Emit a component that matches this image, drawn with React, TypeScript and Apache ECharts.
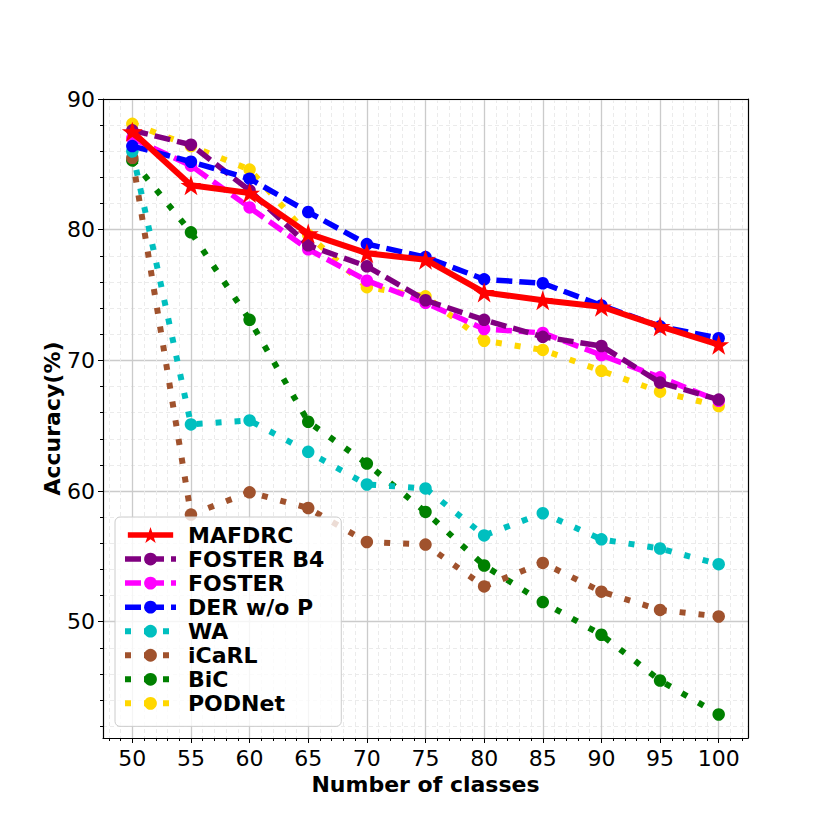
import React, { useEffect, useRef } from "react";
import * as echarts from "echarts";

const classes = [50, 55, 60, 65, 70, 75, 80, 85, 90, 95, 100];
const mafdrc = [87.5, 83.4, 82.8, 79.7, 78.2, 77.7, 75.2, 74.6, 74.1, 72.6, 71.2];
const fosterB4 = [87.6, 86.5, 83.0, 78.8, 77.2, 74.6, 73.1, 71.8, 71.1, 68.3, 67.0];
const foster = [87.0, 84.9, 81.7, 78.5, 76.1, 74.4, 72.4, 72.1, 70.4, 68.7, 66.9];
const derWoP = [86.4, 85.2, 83.9, 81.35, 78.9, 77.9, 76.2, 75.9, 74.2, 72.6, 71.7];
const wa = [86.0, 65.1, 65.4, 63.0, 60.5, 60.2, 56.6, 58.3, 56.3, 55.6, 54.4];
const icarl = [85.5, 58.2, 59.9, 58.7, 56.1, 55.9, 52.7, 54.5, 52.3, 50.9, 50.4];
const bic = [85.3, 79.8, 73.1, 65.3, 62.1, 58.4, 54.3, 51.5, 49.0, 45.5, 42.9];
const podnet = [88.1, 86.4, 84.6, 79.6, 75.6, 74.9, 71.5, 70.8, 69.2, 67.6, 66.5];

const xMajorTicks = [50, 55, 60, 65, 70, 75, 80, 85, 90, 95, 100];
const xMinorTicks = [48, 49, 51, 52, 53, 54, 56, 57, 58, 59, 61, 62, 63, 64, 66, 67, 68, 69, 71, 72, 73, 74, 76, 77, 78, 79, 81, 82, 83, 84, 86, 87, 88, 89, 91, 92, 93, 94, 96, 97, 98, 99, 101, 102];
const yMajorTicks = [50, 60, 70, 80, 90];
const yMinorTicks = [42, 44, 46, 48, 52, 54, 56, 58, 62, 64, 66, 68, 72, 74, 76, 78, 82, 84, 86, 88];

const legendNames = ["MAFDRC", "FOSTER B4", "FOSTER", "DER w/o P", "WA", "iCaRL", "BiC", "PODNet"];

const FONT = "DejaVu Sans";
const DASHED = [16, 7];
const DOTTED = [6, 13];

function starPoints(cx: number, cy: number, r: number): number[][] {
  const pts: number[][] = [];
  for (let k = 0; k < 10; k++) {
    const a = ((-90 + k * 36) * Math.PI) / 180;
    const rr = k % 2 === 0 ? r : r * 0.382;
    pts.push([cx + rr * Math.cos(a), cy + rr * Math.sin(a)]);
  }
  return pts;
}

function starSymbol(): string {
  const pts = starPoints(50, 50, 50);
  return "path://M" + pts.map((p) => p[0].toFixed(2) + " " + p[1].toFixed(2)).join(" L") + " Z";
}

// legend icon for MAFDRC: a solid bar with a star in the middle (units = px of the icon box 51x18)
function starLegendIcon(): string {
  const R = 18 / 1.809;
  const pts = starPoints(25.5, R, R);
  const bar = "M0 6 L51 6 L51 12 L0 12 Z";
  const star = "M" + pts.map((p) => p[0].toFixed(2) + " " + p[1].toFixed(2)).join(" L") + " Z";
  return "path://" + bar + " " + star;
}

type Def = { name: string; values: number[]; color: string; style: "solid" | "dashed" | "dotted"; star?: boolean };

const defs: Def[] = [
  { name: "MAFDRC", values: mafdrc, color: "#ff0000", style: "solid", star: true },
  { name: "FOSTER B4", values: fosterB4, color: "#800080", style: "dashed" },
  { name: "FOSTER", values: foster, color: "#ff00ff", style: "dashed" },
  { name: "DER w/o P", values: derWoP, color: "#0000ff", style: "dashed" },
  { name: "WA", values: wa, color: "#00bfbf", style: "dotted" },
  { name: "iCaRL", values: icarl, color: "#a0522d", style: "dotted" },
  { name: "BiC", values: bic, color: "#008000", style: "dotted" },
  { name: "PODNet", values: podnet, color: "#ffd700", style: "dotted" },
];

// drawing order (later on top)
const zOrder: Record<string, number> = {
  PODNet: 2, BiC: 3, iCaRL: 4, WA: 5, FOSTER: 6, "FOSTER B4": 7, "DER w/o P": 8, MAFDRC: 9,
};

function dashOf(style: string): any {
  return style === "dashed" ? DASHED : style === "dotted" ? DOTTED : "solid";
}
function widthOf(style: string): number {
  return style === "solid" ? 6 : style === "dashed" ? 5.5 : 6;
}

export default function App() {
  const ref = useRef<HTMLDivElement>(null);
  useEffect(() => {
    document.body.style.margin = "0";
    if (!ref.current) return;
    const chart = echarts.init(ref.current, null, { renderer: "svg" });

    const series = defs.map((d) => ({
      name: d.name,
      type: "line",
      xAxisIndex: 1,
      yAxisIndex: 1,
      z: zOrder[d.name],
      data: classes.map((c, i) => [c, d.values[i]]),
      symbol: d.star ? starSymbol() : "circle",
      symbolSize: d.star ? [21, 20] : 12.5,
      showSymbol: true,
      itemStyle: { color: d.color, borderWidth: 0 },
      lineStyle: { color: d.color, width: widthOf(d.style), type: dashOf(d.style), cap: "butt" },
      emphasis: { disabled: true },
    }));

    const legendData = legendNames.map((nm) => {
      const d = defs.find((x) => x.name === nm)!;
      return d.star ? { name: nm, icon: starLegendIcon(), itemStyle: { color: d.color } } : { name: nm };
    });

    const tickStyle = { color: "#000", width: 1 };
    const option: any = {
      animation: false,
      backgroundColor: "#ffffff",
      textStyle: { fontFamily: FONT },
      grid: {
        left: 103, right: 82, top: 99, bottom: 92,
        show: false,
        containLabel: false,
      },
      legend: {
        data: legendData,
        orient: "vertical",
        left: 115,
        top: 517,
        itemWidth: 51,
        itemHeight: 16,
        itemGap: 0.05,
        padding: [6, 17, 11, 7],
        backgroundColor: "rgba(255,255,255,0.8)",
        borderColor: "#cccccc",
        borderWidth: 1,
        borderRadius: 5,
        selectedMode: false,
        z: 20,
        lineStyle: { width: "inherit" },
        itemStyle: { borderWidth: 0 },
        textStyle: {
          fontSize: 22,
          fontWeight: "bold",
          fontFamily: FONT,
          color: "#000",
          lineHeight: 24,
          padding: [0, 0, 0, 7],
        },
      },
      xAxis: [
        {
          type: "value", min: 47.5, max: 102.5, position: "bottom",
          axisLine: { show: false },
          axisTick: { show: true, customValues: xMinorTicks, length: 3, lineStyle: tickStyle },
          axisLabel: { show: false },
          splitLine: { show: true, lineStyle: { color: "#ebebeb", width: 1, type: [4, 3] } },
        },
        {
          type: "value", min: 47.5, max: 102.5, position: "bottom",
          axisLine: { show: true, onZero: false, lineStyle: { color: "#000", width: 1.2 } },
          axisTick: { show: true, customValues: xMajorTicks, length: 5, lineStyle: tickStyle },
          axisLabel: { show: true, customValues: xMajorTicks, fontSize: 22, color: "#000", margin: 9, fontFamily: FONT },
          splitLine: { show: true, lineStyle: { color: "#cbcbcb", width: 1.3 } },
          name: "Number of classes", nameLocation: "middle", nameGap: 31,
          nameTextStyle: { fontSize: 22, fontWeight: "bold", color: "#000", fontFamily: FONT },
        },
        {
          type: "value", min: 47.5, max: 102.5, position: "top",
          axisLine: { show: true, onZero: false, lineStyle: { color: "#000", width: 1.2 } },
          axisTick: { show: false },
          axisLabel: { show: false },
          splitLine: { show: false },
        },
      ],
      yAxis: [
        {
          type: "value", min: 41.1, max: 90, position: "left",
          axisLine: { show: false },
          axisTick: { show: true, customValues: yMinorTicks, length: 3, lineStyle: tickStyle },
          axisLabel: { show: false },
          splitLine: { show: true, lineStyle: { color: "#ebebeb", width: 1, type: [4, 3] } },
        },
        {
          type: "value", min: 41.1, max: 90, position: "left",
          axisLine: { show: true, onZero: false, lineStyle: { color: "#000", width: 1.2 } },
          axisTick: { show: true, customValues: yMajorTicks, length: 5, lineStyle: tickStyle },
          axisLabel: { show: true, customValues: yMajorTicks, fontSize: 22, color: "#000", margin: 8, fontFamily: FONT },
          splitLine: { show: true, lineStyle: { color: "#cbcbcb", width: 1.3 } },
          name: "Accuracy(%)", nameLocation: "middle", nameGap: 40, nameMoveOverlap: false,
          nameTextStyle: { fontSize: 22, fontWeight: "bold", color: "#000", fontFamily: FONT },
        },
        {
          type: "value", min: 41.1, max: 90, position: "right",
          axisLine: { show: true, onZero: false, lineStyle: { color: "#000", width: 1.2 } },
          axisTick: { show: false },
          axisLabel: { show: false },
          splitLine: { show: false },
        },
      ],
      series,
    };
    chart.setOption(option);
    return () => chart.dispose();
  }, []);
  return <div ref={ref} style={{ width: 830, height: 830 }} />;
}
